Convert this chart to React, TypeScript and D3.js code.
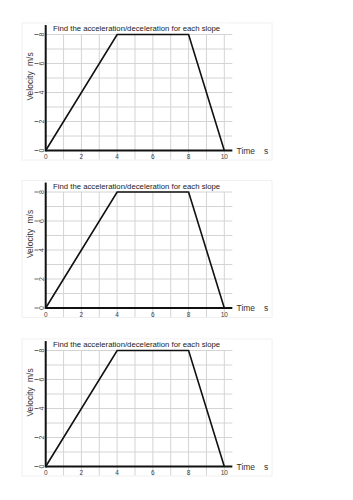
import { useEffect, useRef } from 'react';
import * as d3 from 'd3';

// Velocity-time graph values (same graph repeated three times)
const timeValues = [0, 4, 8, 10];
const velocityValues = [0, 8, 8, 0];
const xTickValues = [0, 2, 4, 6, 8, 10];
const yTickValues = [0, 2, 4, 6, 8];
const panelTitles = [
  'Find the acceleration/deceleration for each slope',
  'Find the acceleration/deceleration for each slope',
  'Find the acceleration/deceleration for each slope',
];

export default function App() {
  const svgRef = useRef<SVGSVGElement>(null);

  useEffect(() => {
    if (!svgRef.current) return;
    const svg = d3.select(svgRef.current);
    svg.selectAll('*').remove();

    const font = 'Liberation Sans, Arial, sans-serif';
    const panelTops = [34.5, 192, 350.5];
    const plotH = 116;

    const x = d3.scaleLinear().domain([0, 10]).range([45.7, 224.3]);
    const pts = timeValues.map((t, i) => ({ t, v: velocityValues[i] }));

    panelTops.forEach((top, pi) => {
      const y = d3.scaleLinear().domain([0, 8]).range([top + plotH, top]);
      const g = svg.append('g');

      // faint outer frame
      g.append('rect')
        .attr('x', 22).attr('y', top - 11.5)
        .attr('width', 250).attr('height', plotH + 21)
        .attr('fill', 'none').attr('stroke', '#f0f0f0').attr('stroke-width', 1);

      // grid
      const grid = g.append('g').attr('stroke', '#d4d4d4').attr('stroke-width', 1);
      d3.range(1, 11).forEach(t => {
        grid.append('line')
          .attr('x1', x(t)).attr('x2', x(t))
          .attr('y1', y(8)).attr('y2', y(0) + 9);
      });
      d3.range(1, 9).forEach(v => {
        grid.append('line')
          .attr('x1', x(0)).attr('x2', x(10.45))
          .attr('y1', y(v)).attr('y2', y(v));
      });

      // title with white backing
      g.append('rect')
        .attr('x', 50).attr('y', top - 11).attr('width', 179).attr('height', 10)
        .attr('fill', '#fff');
      g.append('text')
        .attr('x', 53).attr('y', top - 3.5)
        .attr('font-family', font).attr('font-size', 7.75).attr('fill', '#222')
        .text(panelTitles[pi]);

      // axes
      g.append('line')
        .attr('x1', x(0)).attr('x2', x(0))
        .attr('y1', y(0) + 1).attr('y2', y(8.65))
        .attr('stroke', '#111').attr('stroke-width', 2);
      g.append('line')
        .attr('x1', x(0)).attr('x2', x(10.45))
        .attr('y1', y(0)).attr('y2', y(0))
        .attr('stroke', '#111').attr('stroke-width', 2);

      // y ticks (rotated labels)
      yTickValues.forEach(v => {
        g.append('line')
          .attr('x1', 34.5).attr('x2', 38.5)
          .attr('y1', y(v)).attr('y2', y(v))
          .attr('stroke', '#555').attr('stroke-width', 0.9);
        g.append('text')
          .attr('transform', `translate(${44.3},${y(v)}) rotate(-90)`)
          .attr('text-anchor', 'middle')
          .attr('font-family', font).attr('font-size', 7).attr('fill', '#444')
          .text(v);
      });

      // x tick labels
      xTickValues.forEach(t => {
        g.append('text')
          .attr('x', x(t)).attr('y', y(0) + 8.5)
          .attr('text-anchor', 'middle')
          .attr('font-family', font).attr('font-size', 6.5).attr('fill', '#444')
          .text(t);
      });

      // axis titles
      g.append('text')
        .attr('transform', `translate(${33},${y(4.45)}) rotate(-90)`)
        .attr('text-anchor', 'middle')
        .attr('font-family', font).attr('font-size', 8.5).attr('fill', '#333')
        .text('Velocity');
      g.append('text')
        .attr('transform', `translate(${33},${y(6.3)}) rotate(-90)`)
        .attr('text-anchor', 'middle')
        .attr('font-family', font).attr('font-size', 8.5).attr('fill', '#333')
        .text('m/s');
      g.append('text')
        .attr('x', 236.5).attr('y', y(0) + 3)
        .attr('font-family', font).attr('font-size', 8.5).attr('fill', '#333')
        .text('Time');
      g.append('text')
        .attr('x', 264).attr('y', y(0) + 3)
        .attr('font-family', font).attr('font-size', 8.5).attr('fill', '#333')
        .text('s');

      // velocity line
      const line = d3.line<{ t: number; v: number }>()
        .x(d => x(d.t))
        .y(d => y(d.v));
      g.append('path')
        .datum(pts)
        .attr('d', line)
        .attr('fill', 'none')
        .attr('stroke', '#111')
        .attr('stroke-width', 1.6)
        .attr('stroke-linejoin', 'miter');
    });
  }, []);

  return (
    <svg
      ref={svgRef}
      width={353}
      height={500}
      style={{ position: 'absolute', left: 0, top: 0, background: '#fff' }}
    />
  );
}
